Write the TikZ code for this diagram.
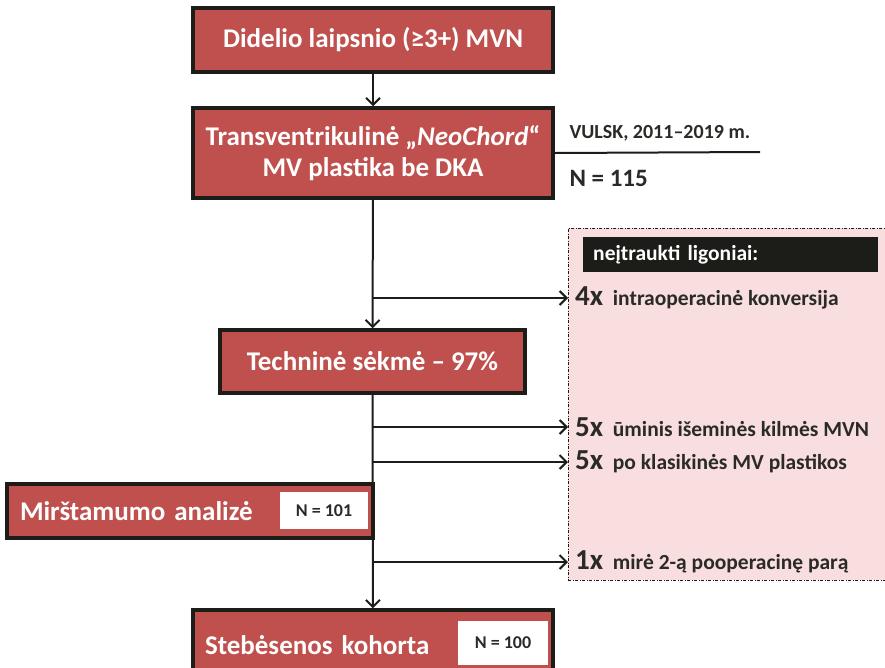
\documentclass[tikz,border=0pt]{standalone}
\usepackage{fontspec}
\setmainfont{Carlito}
\usetikzlibrary{arrows.meta}

\definecolor{boxred}{HTML}{C0504D}
\definecolor{boxpink}{HTML}{F9DEDF}
\definecolor{headblack}{HTML}{1C1C18}
\definecolor{darktext}{HTML}{2A2A26}

\tikzset{
  >={Straight Barb[length=7pt, width=14pt, line width=2pt]},
  redbox/.style={draw=headblack, line width=3.5pt, fill=boxred, text=white,
    font=\bfseries\fontsize{27}{31}\selectfont, inner sep=0pt, align=center},
  nbox/.style={fill=white, text=darktext, inner sep=0pt,
    font=\bfseries\fontsize{18}{20}\selectfont},
  itemtext/.style={anchor=west, text=darktext, inner sep=0pt,
    font=\bfseries\fontsize{21.5}{24}\selectfont},
  flow/.style={line width=2pt, draw=headblack},
}

\newcommand{\cnt}[1]{{\fontsize{29}{30}\selectfont #1}\ \ }

\begin{document}
\begin{tikzpicture}[x=1pt, y=-1pt]
        \useasboundingbox (0,0) rectangle (885,667);

        % excluded patients
        \node[draw=headblack, line width=1pt, dash pattern=on 3pt off 1.5pt on 1pt off 1.5pt,
              fill=boxpink, minimum width=324, minimum height=352, inner sep=0pt]
              (excl) at (730,404) {};
        \node[fill=headblack, text=white, anchor=west, text width=275, inner xsep=10pt,
              minimum height=35, font=\bfseries\fontsize{21.5}{24}\selectfont]
              (head) at (583,254.5) {neįtraukti ligoniai:};

        \node[itemtext] (i1) at (575,298) {\cnt{4x}intraoperacinė konversija};
        \node[itemtext] (i2) at (575,427) {\cnt{5x}ūminis išeminės kilmės MVN};
        \node[itemtext] (i3) at (575,462) {\cnt{5x}po klasikinės MV plastikos};
        \node[itemtext] (i4) at (575,562) {\cnt{1x}mirė 2-ą pooperacinę parą};

        % main flow
        \node[redbox, minimum width=360, minimum height=64] (b1) at (373,40)
              {Didelio laipsnio (≥3+) MVN};
        \node[redbox, minimum width=360, minimum height=90] (b2) at (373,153)
              {Transventrikulinė „\textit{NeoChord}“\\MV plastika be DKA};
        \node[redbox, minimum width=305, minimum height=63] (b3) at (372.5,361.5)
              {Techninė sėkmė – 97\%};
        \node[redbox, minimum width=366, minimum height=54, text width=340,
              align=left] (b4) at (190,511) {Mirštamumo analizė};
        \node[redbox, minimum width=360, minimum height=70, text width=336,
              align=left] (b5) at (373,645) {Stebėsenos kohorta};

        \node[nbox, minimum width=88, minimum height=37] (n101) at (324,510.5) {N = 101};
        \node[nbox, minimum width=90, minimum height=44] (n100) at (503,643) {N = 100};

        % cohort label
        \coordinate (vend) at (760,152);
        \draw[flow] (b2.east) -- (vend);
        \node[anchor=west, text=darktext, font=\bfseries\fontsize{20}{22}\selectfont]
              (vulsk) at (566,133) {VULSK, 2011–2019 m.};
        \node[anchor=west, text=darktext, font=\bfseries\fontsize{25}{27}\selectfont]
              (n115) at (566,178) {N = 115};

        \draw[flow, ->] (b1) -- (b2);
        \draw[flow, ->] (b2) -- (b3);
        \draw[flow, ->] (b3) -- (b5);

        \draw[flow, ->] (b2.south |- i1.west) -- ([xshift=-7pt]i1.west);
        \draw[flow, ->] (b3.south |- i2.west) -- ([xshift=-7pt]i2.west);
        \draw[flow, ->] (b3.south |- i3.west) -- ([xshift=-7pt]i3.west);
        \draw[flow, ->] (b3.south |- i4.west) -- ([xshift=-7pt]i4.west);
    \end{tikzpicture}
\end{document}
